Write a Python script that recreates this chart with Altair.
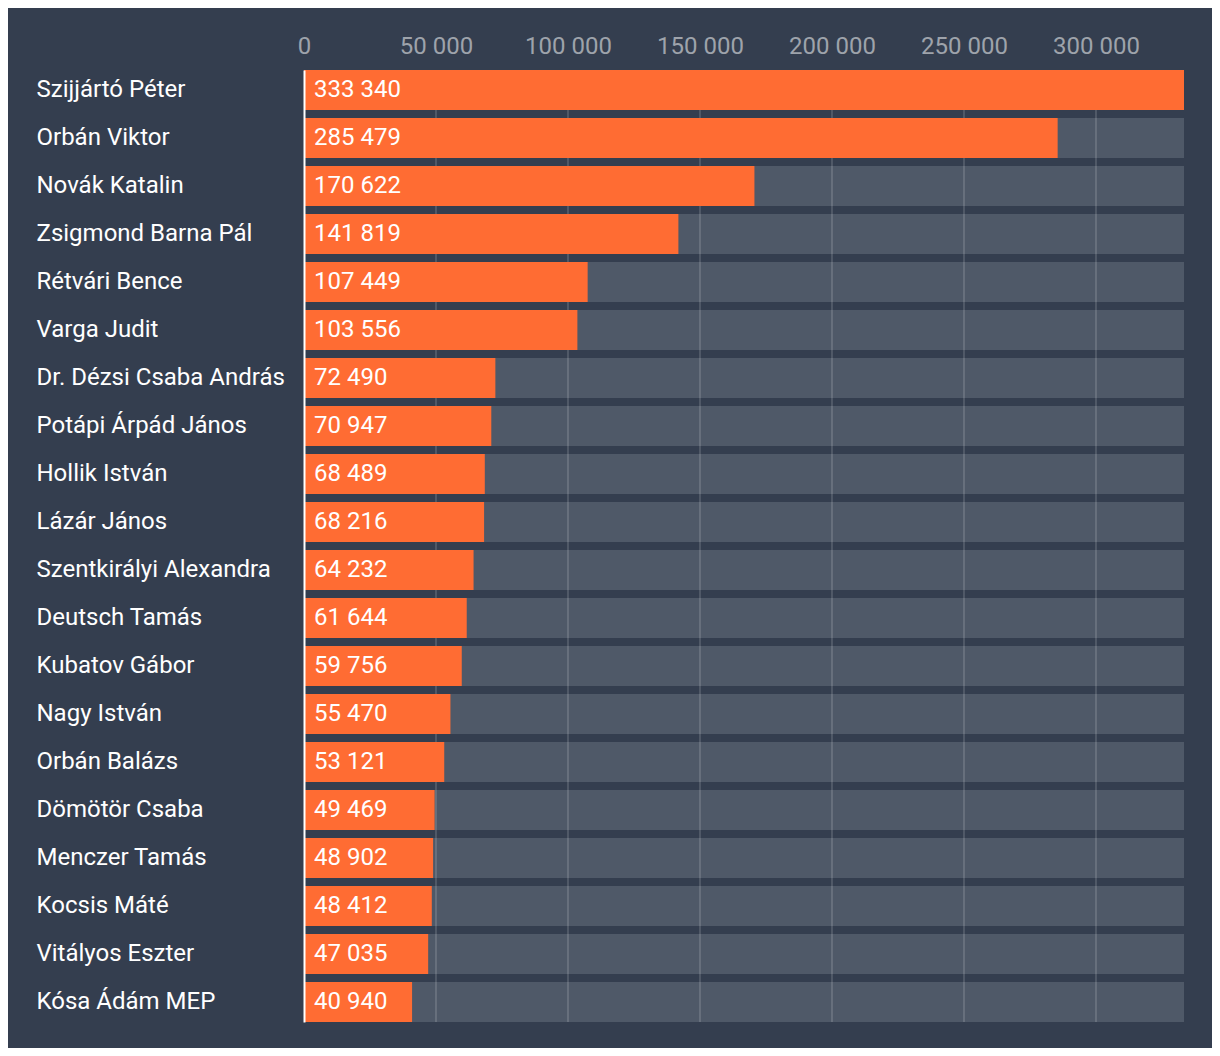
import altair as alt
import pandas as pd

names = [
    "Szijjártó Péter", "Orbán Viktor", "Novák Katalin", "Zsigmond Barna Pál",
    "Rétvári Bence", "Varga Judit", "Dr. Dézsi Csaba András", "Potápi Árpád János",
    "Hollik István", "Lázár János", "Szentkirályi Alexandra", "Deutsch Tamás",
    "Kubatov Gábor", "Nagy István", "Orbán Balázs", "Dömötör Csaba",
    "Menczer Tamás", "Kocsis Máté", "Vitályos Eszter", "Kósa Ádám MEP",
]
values = [
    333340, 285479, 170622, 141819, 107449, 103556, 72490, 70947, 68489, 68216,
    64232, 61644, 59756, 55470, 53121, 49469, 48902, 48412, 47035, 40940,
]
tick_values = [0, 50000, 100000, 150000, 200000, 250000, 300000]
grid_values = [50000, 100000, 150000, 200000, 250000, 300000]
x_max = 333340

labels = [f"{v:,}".replace(",", " ") for v in values]
df = pd.DataFrame({"name": names, "value": values, "label": labels,
                   "full": [x_max] * len(names)})
grid_df = pd.DataFrame({"t": grid_values})

BG = "#343e4f"
TRACK = "#4f5968"
ORANGE = "#ff6c33"
FONT = "Roboto"
FS = 24

xscale = alt.Scale(domain=[0, x_max], nice=False, zero=True)
yscale = alt.Scale(paddingInner=8 / 48, paddingOuter=0)

y_axis = alt.Axis(
    title=None, orient="left", labelAlign="left", labelPadding=268,
    ticks=False, tickSize=0, domain=True, domainColor="white", domainWidth=2,
    labelColor="white", labelFontSize=FS, labelFont=FONT, labelBaseline="middle",
    grid=False, zindex=1, labelLimit=400,
)
x_axis = alt.Axis(
    title=None, orient="top", values=tick_values,
    labelExpr="replace(format(datum.value, ','), ',', ' ')",
    ticks=False, tickSize=0, domain=False, grid=False, labelFlush=False,
    labelColor="#9ea3ab", labelFontSize=FS, labelFont=FONT, labelPadding=12,
)

y = alt.Y("name:N", sort=names, scale=yscale, axis=y_axis)

track = alt.Chart(df).mark_bar(color=TRACK).encode(
    y=y, x=alt.X("full:Q", scale=xscale, axis=x_axis)
)
grid = alt.Chart(grid_df).mark_rule(color="white", opacity=0.14, strokeWidth=2).encode(
    x=alt.X("t:Q", scale=xscale, axis=x_axis)
)
bars = alt.Chart(df).mark_bar(color=ORANGE).encode(
    y=y,
    x=alt.X("value:Q", scale=xscale, axis=x_axis),
)
text = alt.Chart(df).mark_text(
    align="left", baseline="middle", dx=10, color="white", fontSize=FS, font=FONT
).encode(
    y=y,
    x=alt.value(0),
    text="label:N",
)

chart = alt.layer(track, grid, bars, text).properties(
    width=880, height=952,
    background=BG,
    autosize=alt.AutoSizeParams(type="none"),
    padding={"left": 296, "top": 62, "right": 28, "bottom": 26},
).configure_view(stroke=None)

chart.save("out.html", embed_options={"renderer": "svg", "actions": False})
